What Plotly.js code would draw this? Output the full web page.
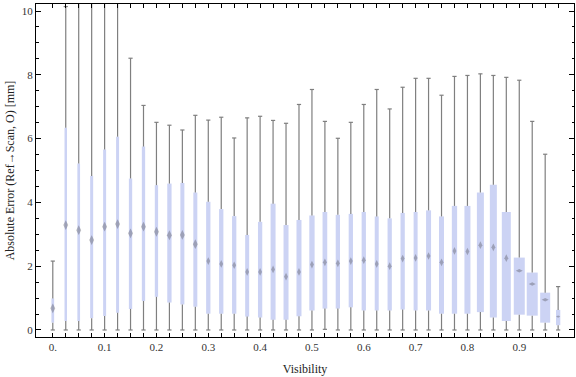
<!DOCTYPE html>
<html>
<head>
<meta charset="utf-8">
<script src="https://cdn.plot.ly/plotly-3.0.1.min.js"></script>
<style>html,body{margin:0;padding:0;background:#fff;}#chart{width:576px;height:377px;}</style>
</head>
<body>
<div id="chart"></div>
<script>
// ---- data ----
var visibility = [0, 0.025, 0.05, 0.075, 0.1, 0.125, 0.15, 0.175, 0.2, 0.225,
  0.25, 0.275, 0.3, 0.325, 0.35, 0.375, 0.4, 0.425, 0.45, 0.475,
  0.5, 0.525, 0.55, 0.575, 0.6, 0.625, 0.65, 0.675, 0.7, 0.725,
  0.75, 0.775, 0.8, 0.825, 0.85, 0.875, 0.9, 0.925, 0.95, 0.975];
var whiskerLow = [0, 0, 0, 0, 0, 0, 0, 0, 0, 0,
  0, 0, 0, 0, 0, 0, 0, 0, 0, 0,
  0, 0.02, 0, 0, 0, 0, 0, 0, 0, 0,
  0, 0, 0, 0, 0, 0, 0, 0, 0, 0];
var quartile1 = [0.23, 0.28, 0.28, 0.37, 0.44, 0.54, 0.66, 0.91, 1.04, 0.86,
  0.80, 0.73, 0.51, 0.51, 0.51, 0.42, 0.39, 0.32, 0.32, 0.43,
  0.61, 0.67, 0.67, 0.71, 0.61, 0.61, 0.61, 0.64, 0.61, 0.61,
  0.51, 0.51, 0.51, 0.56, 0.39, 0.28, 0.48, 0.45, 0.23, 0.15];
var medians = [0.68, 3.29, 3.13, 2.82, 3.24, 3.32, 3.03, 3.24, 3.08, 2.97,
  2.98, 2.69, 2.16, 2.07, 2.03, 1.82, 1.82, 1.90, 1.67, 1.82,
  2.05, 2.12, 2.09, 2.16, 2.19, 2.07, 2.00, 2.24, 2.26, 2.32,
  2.12, 2.48, 2.46, 2.66, 2.59, 2.25, 1.86, 1.44, 0.95, 0.42];
var quartile3 = [0.99, 6.34, 5.22, 4.83, 5.66, 6.06, 4.75, 5.75, 4.54, 4.59,
  4.61, 4.31, 4.02, 3.79, 3.57, 2.98, 3.39, 3.96, 3.29, 3.45,
  3.59, 3.70, 3.61, 3.64, 3.70, 3.56, 3.50, 3.67, 3.70, 3.75,
  3.56, 3.89, 3.89, 4.31, 4.55, 3.70, 2.27, 1.80, 1.17, 0.63];
var whiskerHigh = [2.16, 10.14, 12.0, 13.0, 13.0, 13.0, 8.52, 7.04, 6.51, 6.42,
  6.27, 6.73, 6.58, 6.67, 6.02, 6.65, 6.70, 6.57, 6.48, 7.07,
  7.54, 6.54, 6.01, 6.51, 7.07, 7.54, 6.93, 7.61, 7.89, 7.89,
  7.36, 7.95, 7.98, 8.03, 7.98, 7.92, 7.83, 6.54, 5.51, 1.36];
var xTickVals = [0, 0.1, 0.2, 0.3, 0.4, 0.5, 0.6, 0.7, 0.8, 0.9];
var xTickText = ["0.", "0.1", "0.2", "0.3", "0.4", "0.5", "0.6", "0.7", "0.8", "0.9"];
var yTickVals = [0, 2, 4, 6, 8, 10];
var yTickText = ["0", "2", "4", "6", "8", "10"];

// ---- style ----
var boxWidthPx = [2.7, 2.5, 2.7, 3, 3, 3, 3.3, 3.3, 3.3, 4.3,
  4, 4, 4.3, 4.3, 4.3, 4, 4.3, 5, 5, 5,
  5.3, 4.7, 4.3, 4.3, 4.3, 4, 4.3, 4.3, 4, 5,
  5, 5.3, 6, 7, 7, 9, 11, 11, 10, 4.3];
var W = 576, H = 377;
var M = {l: 36, r: 2, t: 4, b: 40};
var xRange = [-0.0324, 1.0056];
var yRange = [-0.22, 10.22];
var pxPerX = (W - M.l - M.r) / (xRange[1] - xRange[0]);
var serif = '"Liberation Serif", "DejaVu Serif", serif';
var whiskerColor = '#7f7f7f';

var boxWidthData = boxWidthPx.map(function (p) { return p / pxPerX; });
var boxHeight = quartile3.map(function (q, i) { return q - quartile1[i]; });

// whisker segments: lower (min -> q1) and upper (q3 -> max)
var segX = [], segY = [];
visibility.forEach(function (v, i) {
  segX.push(v, v, null, v, v, null);
  segY.push(whiskerLow[i], quartile1[i], null, quartile3[i], whiskerHigh[i], null);
});
var capX = visibility.concat(visibility);
var capY = whiskerLow.concat(whiskerHigh);

var nLast = visibility.length - 1;
var medSymbol = boxWidthPx.map(function (p, i) { return (p >= 10 || i === nLast) ? 'diamond-wide' : 'diamond-tall'; });
var medSize = boxWidthPx.map(function (p, i) {
  if (i === nLast) return 3;
  if (p >= 10) return 5;
  return visibility[i] < 0.3 ? 7 : 5.5;
});

var whiskers = {
  type: 'scatter', mode: 'lines', x: segX, y: segY, connectgaps: false,
  line: {color: whiskerColor, width: 1.2}, hoverinfo: 'skip'
};
var caps = {
  type: 'scatter', mode: 'markers', x: capX, y: capY,
  marker: {symbol: 'line-ew', size: 3, line: {color: whiskerColor, width: 1.2}},
  hoverinfo: 'skip'
};
var boxes = {
  type: 'bar', x: visibility, y: boxHeight, base: quartile1, width: boxWidthData,
  marker: {color: 'rgb(204,211,244)', line: {width: 0}},
  hoverinfo: 'skip'
};
var meds = {
  type: 'scatter', mode: 'markers', x: visibility, y: medians,
  marker: {symbol: medSymbol, size: medSize, color: 'rgba(90,90,100,0.6)', line: {width: 0}},
  hoverinfo: 'skip'
};

var axisCommon = {
  showgrid: false, zeroline: false, showline: true, linecolor: '#000', linewidth: 1,
  mirror: 'allticks', ticks: 'inside', tickcolor: '#000', tickwidth: 1,
  tickfont: {family: serif, size: 11, color: '#333'}
};
var layout = {
  width: W, height: H, margin: M, paper_bgcolor: '#fff', plot_bgcolor: '#fff',
  showlegend: false, barmode: 'overlay',
  xaxis: Object.assign({}, axisCommon, {
    range: xRange, tickmode: 'array', tickvals: xTickVals, ticktext: xTickText, ticklen: 4,
    minor: {tickmode: 'array', tickvals: visibility, ticks: 'inside', ticklen: 4, tickcolor: '#000', showgrid: false},
    title: {text: 'Visibility', font: {family: serif, size: 12, color: '#222'}, standoff: 12}
  }),
  yaxis: Object.assign({}, axisCommon, {
    range: yRange, tickmode: 'array', tickvals: yTickVals, ticktext: yTickText, ticklen: 5,
    minor: {tickmode: 'linear', tick0: 0, dtick: 0.5, ticks: 'inside', ticklen: 2.5, tickcolor: '#000', showgrid: false},
    title: {text: 'Absolute Error (Ref\u2192Scan, O) [mm]', font: {family: serif, size: 12, color: '#222'}, standoff: 4}
  })
};
Plotly.newPlot('chart', [whiskers, caps, boxes, meds], layout, {staticPlot: true, displayModeBar: false});
</script>
</body>
</html>
